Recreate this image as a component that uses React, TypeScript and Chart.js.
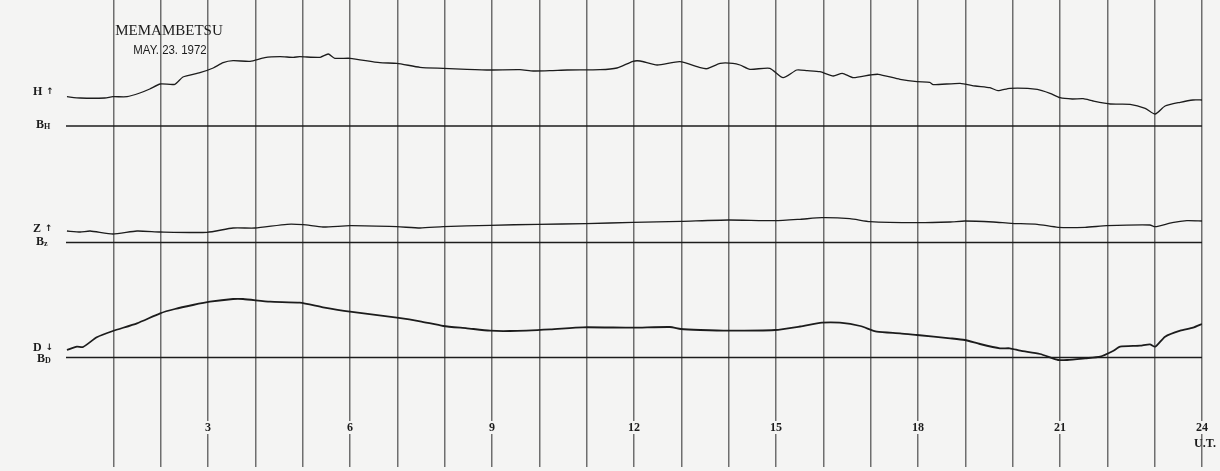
import { useEffect, useRef } from 'react';
import { Chart, registerables } from 'chart.js';

Chart.register(...registerables);

// Hour grid (U.T.) and labelled hours
const hourMin = 0;
const hourMax = 24;
const labelledHours = [3, 6, 9, 12, 15, 18, 21, 24];
const timeUnitLabel = 'U.T.';

// Trace deflections above their baselines (chart units) — [hour, value]
const hSeries: [number, number][] = [
  [0.02, 29.3], [0.30, 28], [0.82, 28], [0.99, 29.3], [1.29, 29.3], [1.56, 33], [1.77, 37],
  [1.99, 42], [2.30, 41.7], [2.47, 49], [2.83, 53.3], [3.11, 58], [3.32, 63.3], [3.53, 65.3],
  [3.89, 64.7], [4.20, 68.3], [4.52, 69.3], [4.80, 68.7], [4.94, 69.3], [5.37, 68.7], [5.54, 72],
  [5.68, 67.7], [6.00, 67.7], [6.63, 63.3], [6.99, 62.7], [7.48, 58.7], [7.97, 57.7], [8.47, 56.7],
  [8.96, 56], [9.59, 56.3], [9.87, 55], [10.23, 55.3], [10.59, 56], [11.28, 56.3], [11.64, 58],
  [11.98, 64.7], [12.13, 65], [12.49, 61], [12.97, 64.3], [13.40, 58.3], [13.54, 57.3],
  [13.82, 62.7], [14.09, 62.7], [14.24, 61], [14.45, 56.7], [14.87, 57.7], [15.15, 48.3],
  [15.44, 56], [15.66, 55.3], [15.93, 54.3], [16.21, 50], [16.40, 52.7], [16.63, 48.3],
  [16.99, 51], [17.16, 51.7], [17.62, 46.7], [17.98, 44.3], [18.25, 43.7], [18.32, 41.3],
  [18.89, 42.7], [19.21, 40], [19.52, 38.3], [19.69, 35.3], [19.94, 37.7], [20.52, 36.7],
  [20.79, 32.7], [21.00, 28.3], [21.26, 27], [21.49, 27.3], [21.70, 25], [22.06, 22],
  [22.48, 21.7], [22.80, 17.7], [23.01, 12], [23.22, 20], [23.54, 23.7], [23.81, 26], [24.00, 26],
];

const zSeries: [number, number][] = [
  [0.02, 11.5], [0.30, 10.5], [0.51, 11.5], [0.99, 8.5], [1.50, 11.5], [1.99, 10.5], [2.98, 10.2],
  [3.53, 14.5], [3.99, 14.5], [4.67, 18.2], [5.01, 17.8], [5.43, 15.5], [6.00, 16.8], [6.99, 15.8],
  [7.48, 14.5], [7.97, 15.8], [8.96, 17.2], [9.97, 18.2], [10.99, 18.8], [11.98, 20.2],
  [12.99, 21.2], [13.99, 22.5], [14.98, 21.8], [15.51, 23.2], [15.97, 24.8], [16.56, 23.8],
  [16.99, 20.8], [17.98, 19.8], [18.68, 20.5], [18.99, 21.5], [19.59, 20.5], [19.97, 19.2],
  [20.52, 18.2], [20.96, 15.2], [21.53, 15.2], [21.99, 16.8], [22.90, 17.5], [23.01, 15.8],
  [23.37, 19.8], [23.68, 21.8], [24.00, 21.5],
];

const dSeries: [number, number][] = [
  [0.02, 7.5], [0.23, 10.8], [0.36, 10.5], [0.65, 20.2], [0.99, 26.5], [1.50, 34.2], [1.99, 44.2],
  [2.30, 48.5], [2.68, 52.5], [3.04, 55.8], [3.53, 58.5], [3.74, 58.5], [4.31, 55.8], [4.94, 54.8],
  [5.43, 50.2], [6.00, 45.8], [6.99, 39.8], [7.48, 36.2], [7.97, 31.5], [8.47, 29.2], [8.96, 26.8],
  [9.38, 26.5], [10.23, 28.2], [10.92, 30.2], [11.98, 29.8], [12.76, 30.5], [12.99, 28.5],
  [13.40, 27.5], [13.99, 26.8], [14.98, 27.5], [15.51, 31], [15.97, 34.8], [16.35, 34.8],
  [16.78, 31.5], [17.13, 25.8], [17.62, 24.2], [17.98, 22.5], [18.68, 19.2], [18.99, 17.5],
  [19.31, 13.5], [19.73, 9.2], [19.94, 9.2], [20.16, 6.8], [20.58, 3.5], [20.96, -2.5],
  [21.15, -2.5], [21.53, -0.8], [21.85, 0.8], [22.12, 6.5], [22.27, 10.8], [22.69, 11.8],
  [22.90, 13.2], [23.01, 10.8], [23.22, 20.8], [23.54, 26.8], [23.81, 29.8], [24.00, 33.5],
];

const baselineLevel = 0;

const BG = '#f4f4f3';
const GRID = '#6e6e6e';
const INK = '#1c1c1c';

const textPlugin = {
  id: 'magnetogramText',
  afterDraw(chart: any) {
    const ctx = chart.ctx as CanvasRenderingContext2D;
    ctx.save();
    ctx.fillStyle = INK;
    ctx.textBaseline = 'middle';

    ctx.textAlign = 'center';
    ctx.font = '15px "Liberation Serif", serif';
    ctx.fillText('MEMAMBETSU', 169, 31);
    ctx.save();
    ctx.translate(170, 50);
    ctx.scale(0.88, 1);
    ctx.font = '13px "Liberation Sans", sans-serif';
    ctx.fillText('MAY. 23. 1972', 0, 0);
    ctx.restore();

    // time unit under the last hour label
    const xs = chart.scales.x;
    ctx.font = 'bold 12px "Liberation Serif", serif';
    ctx.fillText(timeUnitLabel, xs.getPixelForValue(hourMax) + 3, 444);

    ctx.textAlign = 'left';
    const arrowLabel = (letter: string, arrow: string, x: number, y: number) => {
      ctx.font = 'bold 12px "Liberation Serif", serif';
      ctx.fillText(letter, x, y);
      const w = ctx.measureText(letter).width;
      ctx.font = 'bold 9px "DejaVu Sans", sans-serif';
      ctx.fillText(arrow, x + w + 4, y);
    };
    const baseLabel = (sub: string, x: number, y: number) => {
      ctx.font = 'bold 12px "Liberation Serif", serif';
      ctx.fillText('B', x, y);
      const w = ctx.measureText('B').width;
      ctx.font = 'bold 8px "Liberation Serif", serif';
      ctx.fillText(sub, x + w, y + 2);
    };
    arrowLabel('H', '↑', 33, 92);
    baseLabel('H', 36, 125);
    arrowLabel('Z', '↑', 33, 229);
    baseLabel('z', 36, 242);
    arrowLabel('D', '↓', 33, 348);
    baseLabel('D', 37, 359);
    ctx.restore();
  },
};

const toPoints = (s: [number, number][]) => s.map(([x, y]) => ({ x, y }));
const baseline = () => [
  { x: hourMin, y: baselineLevel },
  { x: hourMax, y: baselineLevel },
];

export default function App() {
  const canvasRef = useRef<HTMLCanvasElement | null>(null);

  useEffect(() => {
    if (!canvasRef.current) return;
    const traceStyle = {
      borderColor: INK,
      pointRadius: 0,
      fill: false,
      tension: 0.2,
    };
    const chart = new Chart(canvasRef.current, {
      type: 'line',
      data: {
        datasets: [
          { ...traceStyle, label: 'H', data: toPoints(hSeries), yAxisID: 'yH', borderWidth: 1.3 },
          { ...traceStyle, label: 'BH', data: baseline(), yAxisID: 'yH', borderWidth: 1.6, tension: 0 },
          { ...traceStyle, label: 'Z', data: toPoints(zSeries), yAxisID: 'yZ', borderWidth: 1.3 },
          { ...traceStyle, label: 'BZ', data: baseline(), yAxisID: 'yZ', borderWidth: 1.4, tension: 0 },
          { ...traceStyle, label: 'D', data: toPoints(dSeries), yAxisID: 'yD', borderWidth: 1.8 },
          { ...traceStyle, label: 'BD', data: baseline(), yAxisID: 'yD', borderWidth: 1.5, tension: 0 },
        ],
      },
      options: {
        animation: false,
        responsive: true,
        maintainAspectRatio: false,
        parsing: false as any,
        layout: { padding: { left: 66, right: 18, top: 0, bottom: 4 } },
        plugins: {
          legend: { display: false },
          tooltip: { enabled: false },
          title: { display: false },
        },
        scales: {
          x: {
            type: 'linear',
            position: 'bottom',
            min: hourMin,
            max: hourMax,
            border: { display: false },
            afterFit: (scale: any) => {
              scale.height = 0;
              scale.paddingLeft = 0;
              scale.paddingRight = 0;
            },
            grid: {
              color: (c: any) => (c.tick && c.tick.value === hourMin ? 'rgba(0,0,0,0)' : GRID),
              lineWidth: 1.5,
              drawTicks: false,
            },
            ticks: {
              stepSize: 1,
              autoSkip: false,
              maxRotation: 0,
              minRotation: 0,
              mirror: true,
              padding: 31,
              color: INK,
              font: { family: '"Liberation Serif", serif', size: 12, weight: 'bold', lineHeight: 17 / 12 },
              showLabelBackdrop: true,
              backdropColor: (c: any) =>
                c.tick && labelledHours.includes(c.tick.value) ? BG : 'rgba(0,0,0,0)',
              backdropPadding: { x: 1, y: -2 },
              callback: (v: any) => {
                const n = Number(v);
                return labelledHours.includes(n) ? String(n) : '';
              },
            } as any,
          },
          yH: {
            type: 'linear',
            position: 'right',
            stack: 'traces',
            stackWeight: 140,
            min: -14,
            max: 126,
            display: false,
          },
          yZ: {
            type: 'linear',
            position: 'right',
            stack: 'traces',
            stackWeight: 110,
            min: -7.5,
            max: 102.5,
            display: false,
          },
          yD: {
            type: 'linear',
            position: 'right',
            stack: 'traces',
            stackWeight: 217,
            min: -109.5,
            max: 107.5,
            display: false,
          },
        } as any,
      },
      plugins: [textPlugin],
    });
    return () => chart.destroy();
  }, []);

  return (
    <div
      style={{
        position: 'absolute',
        left: 0,
        top: 0,
        width: 1220,
        height: 471,
        background: BG,
      }}
    >
      <canvas ref={canvasRef} />
    </div>
  );
}
